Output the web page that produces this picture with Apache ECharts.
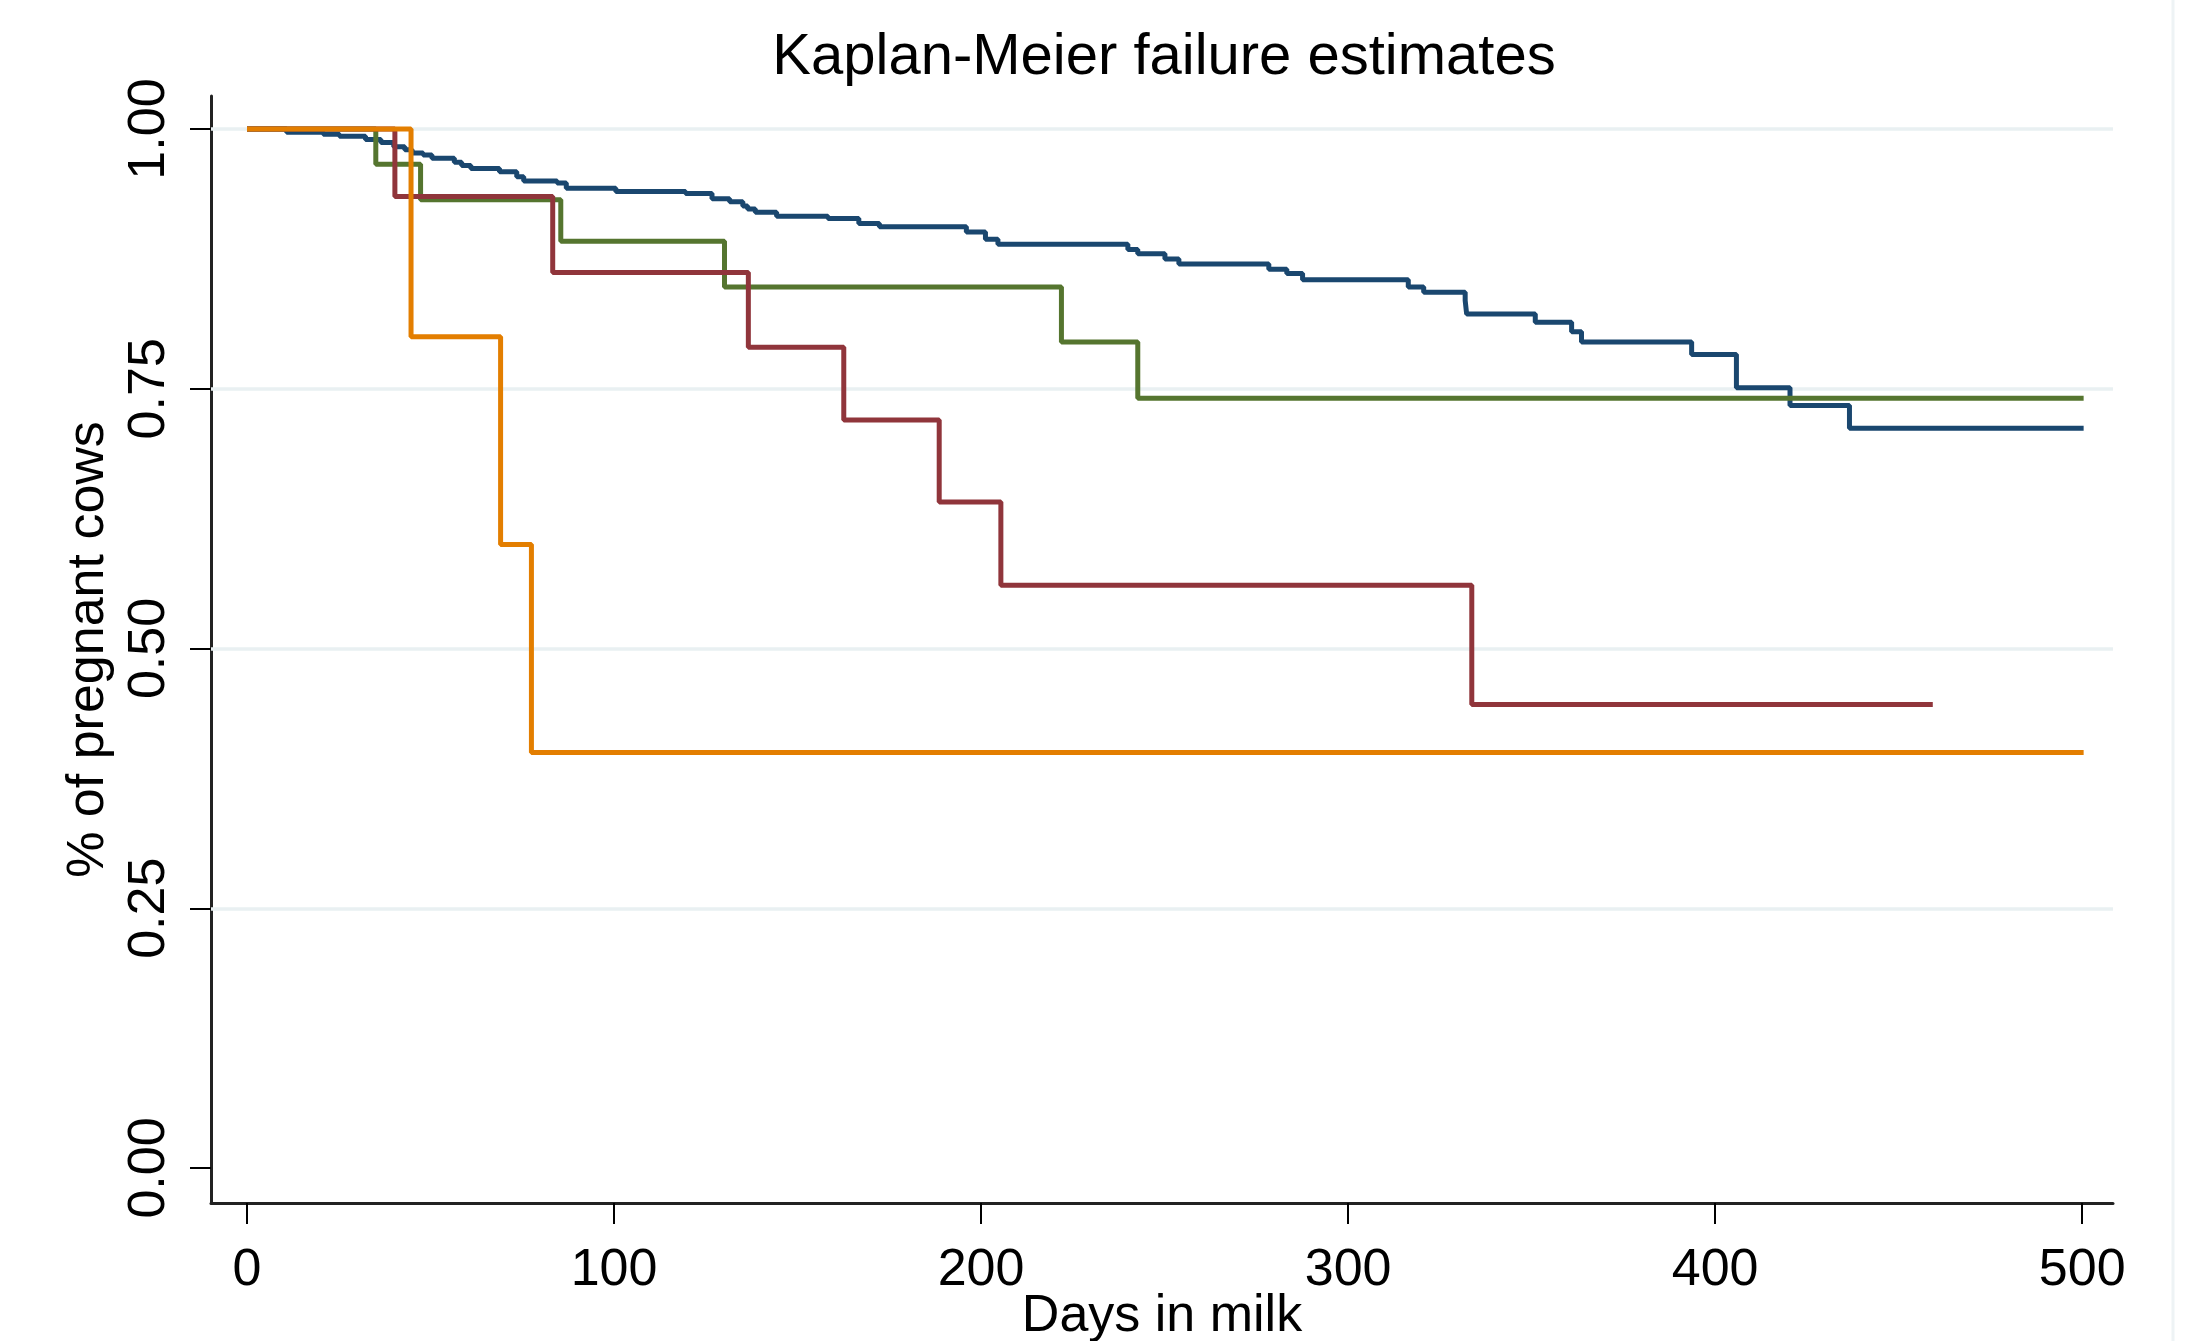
<!DOCTYPE html>
<html>
<head>
<meta charset="utf-8">
<script src="https://cdn.jsdelivr.net/npm/echarts@6/dist/echarts.min.js"></script>
<style>
  html, body { margin: 0; padding: 0; background: #fff; }
  #chart { width: 2204px; height: 1341px; }
</style>
</head>
<body>
<div id="chart"></div>
<script>
// KM failure curves: day of each step, value after the step
const navyDays = [0, 10.8, 20.8, 25.2, 32.3, 36.5, 40, 43, 45, 48, 50.4, 56.5, 58.5, 61, 68.8, 73.5, 75.4, 84.5, 87, 100.5, 119.5, 126.7, 131.5, 135.1, 136.4, 138.5, 144.3, 158.3, 166.7, 172.3, 196, 201.2, 204.6, 240, 242.7, 250.1, 253.9, 278.4, 283.3, 287.6, 316.4, 320.6, 331.9, 332.3, 351, 360.9, 363.6, 393.6, 405.8, 420.4, 436.6, 500.4]
const navySurv = [1, 0.997, 0.995, 0.993, 0.990, 0.987, 0.983, 0.980, 0.977, 0.975, 0.972, 0.968, 0.965, 0.962, 0.959, 0.954, 0.950, 0.948, 0.943, 0.940, 0.938, 0.933, 0.930, 0.926, 0.923, 0.920, 0.916, 0.914, 0.909, 0.906, 0.901, 0.894, 0.889, 0.884, 0.880, 0.875, 0.870, 0.865, 0.861, 0.855, 0.848, 0.843, 0.835, 0.822, 0.814, 0.805, 0.795, 0.783, 0.751, 0.734, 0.712, 0.712]

const maroonDays = [0, 40.3, 83.3, 136.6, 162.6, 188.6, 205.4, 333.7, 459.3]
const maroonSurv = [1, 0.935, 0.862, 0.790, 0.720, 0.641, 0.561, 0.446, 0.446]

const greenDays = [0, 35.1, 47.3, 85.5, 130.1, 221.9, 242.7, 500.4]
const greenSurv = [1, 0.966, 0.932, 0.892, 0.848, 0.795, 0.741, 0.741]

const orangeDays = [0, 44.7, 69.1, 77.5, 500.4]
const orangeSurv = [1, 0.80, 0.60, 0.40, 0.40]

const xTicks = [0, 100, 200, 300, 400, 500]
const yTicks = [0, 0.25, 0.5, 0.75, 1]
const yGrid = [0.25, 0.5, 0.75, 1]

const FONT = "'Liberation Sans', Arial, sans-serif"

function pairs(days, surv) {
  return days.map((d, i) => [d, surv[i]])
}

function kmLine(name, days, surv, color) {
  return {
    name: name,
    type: "line",
    step: "end",
    z: 10,
    showSymbol: false,
    silent: true,
    lineStyle: { color: color, width: 5 },
    data: pairs(days, surv)
  }
}

const chart = echarts.init(document.getElementById("chart"))

const axisText = { fontFamily: FONT, fontSize: 52, color: "#000" }

let option = {
  animation: false,
  backgroundColor: "#fff",
  title: {
    text: "Kaplan-Meier failure estimates",
    left: 1159,
    top: 24,
    textAlign: "center",
    textStyle: { fontFamily: FONT, fontSize: 58, fontWeight: "normal", color: "#000" }
  },
  graphic: [
    {
      type: "line",
      shape: { x1: 2173, y1: 0, x2: 2173, y2: 1341 },
      style: { stroke: "#eef3f5", lineWidth: 3 }
    }
  ],
  grid: { left: 211, right: 91, top: 96, bottom: 138, containLabel: false, outerBoundsMode: "none" },
  xAxis: {
    type: "value",
    min: -9.8,
    max: 508.4,
    name: "Days in milk",
    nameLocation: "middle",
    nameGap: 88,
    nameMoveOverlap: false,
    nameTextStyle: axisText,
    axisLine: { show: true, onZero: false, lineStyle: { color: "#222", width: 3 } },
    axisTick: { show: true, length: 21, customValues: xTicks, lineStyle: { color: "#000", width: 2 } },
    axisLabel: { customValues: xTicks, margin: 42, ...axisText },
    splitLine: { show: false }
  },
  yAxis: {
    type: "value",
    min: -0.0337,
    max: 1.0318,
    name: "% of pregnant cows",
    nameLocation: "middle",
    nameGap: 96,
    nameMoveOverlap: false,
    nameTextStyle: axisText,
    axisLine: { show: true, onZero: false, lineStyle: { color: "#222", width: 3 } },
    axisTick: { show: true, length: 21, customValues: yTicks, lineStyle: { color: "#000", width: 2 } },
    axisLabel: {
      customValues: yTicks,
      rotate: 90,
      margin: 35,
      formatter: (v) => v.toFixed(2),
      ...axisText
    },
    splitLine: { show: false }
  },
  series: [
    {
      name: "grid",
      type: "line",
      data: [],
      silent: true,
      markLine: {
        silent: true,
        symbol: ["none", "none"],
        label: { show: false },
        lineStyle: { color: "#e9f0f2", width: 3.5, type: "solid" },
        data: yGrid.map((v) => ({ yAxis: v }))
      }
    },
    kmLine("navy", navyDays, navySurv, "#1a476f"),
    kmLine("green", greenDays, greenSurv, "#55752f"),
    kmLine("maroon", maroonDays, maroonSurv, "#90353b"),
    kmLine("orange", orangeDays, orangeSurv, "#e37e00")
  ]
}

chart.setOption(option)

window.onresize = () => {
  chart.resize()
}
</script>
</body>
</html>
